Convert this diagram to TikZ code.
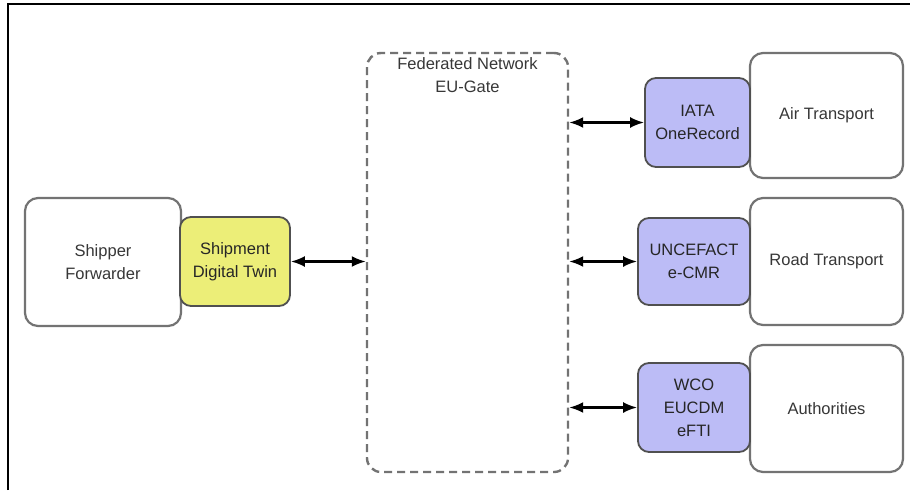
\documentclass[tikz,border=0pt]{standalone}
\usepackage{fontspec}
\setmainfont{Liberation Sans}
\usetikzlibrary{arrows.meta}
\definecolor{boxgray}{RGB}{115,115,115}
\definecolor{txtgray}{RGB}{55,55,55}
\definecolor{twinfill}{RGB}{236,238,120}
\definecolor{stdfill}{RGB}{188,188,246}
\definecolor{darkedge}{RGB}{80,80,80}
\tikzset{
  party/.style={draw=boxgray, line width=2.2pt, rounded corners=13pt, fill=white,
    text=txtgray, align=center, font=\fontsize{16.5}{23}\selectfont, inner sep=0pt},
  stdbox/.style={draw=darkedge, line width=1.8pt, rounded corners=11pt, fill=stdfill,
    text=black!85, align=center, font=\fontsize{16.5}{23}\selectfont, inner sep=0pt},
  twinbox/.style={stdbox, fill=twinfill},
  fedbox/.style={draw=boxgray, line width=2.4pt, dash pattern=on 8pt off 5pt,
    rounded corners=14pt, inner sep=0pt},
  link/.style={line width=2.2pt, {Latex[length=14pt,width=11pt]}-{Latex[length=14pt,width=11pt]}},
}
\begin{document}
\begin{tikzpicture}[x=1pt,y=-1pt]
\useasboundingbox (0,0) rectangle (910,490);
\draw[line width=2.5pt] (8,490) -- (8,4) -- (910,4);

% white party boxes
\node[party, minimum width=156pt, minimum height=128pt] (shipper) at (103,262) {Shipper\\Forwarder};
\node[party, minimum width=153pt, minimum height=125pt] (air) at (826.5,115.5) {Air Transport};
\node[party, minimum width=153pt, minimum height=127pt] (road) at (826.5,261.5) {Road Transport};
\node[party, minimum width=153pt, minimum height=127pt] (auth) at (826.5,408.5) {Authorities};

% coloured boxes
\node[twinbox, minimum width=110pt, minimum height=89pt] (twin) at (235,261.5) {Shipment\\Digital Twin};
\node[stdbox, minimum width=105pt, minimum height=89pt] (iata) at (697.5,122.5) {IATA\\OneRecord};
\node[stdbox, minimum width=112pt, minimum height=87pt] (cefact) at (694,261.5) {UNCEFACT\\e-CMR};
\node[stdbox, minimum width=112pt, minimum height=89pt] (wco) at (694,407.5) {WCO\\EUCDM\\eFTI};

% federated network
\node[fedbox, minimum width=201pt, minimum height=419pt] (fed) at (467.5,262.5) {};
\node[text=txtgray, align=center, font=\fontsize{16.5}{23}\selectfont, anchor=north, inner sep=0pt]
  (fedlabel) at ([yshift=-6pt]fed.north) {Federated Network\\EU-Gate};

% connectors
\draw[link] (twin.east) -- (fed.west |- twin.east);
\draw[link] (fed.east |- iata.west) -- (iata.west);
\draw[link] (fed.east |- cefact.west) -- (cefact.west);
\draw[link] (fed.east |- wco.west) -- (wco.west);
\end{tikzpicture}
\end{document}
